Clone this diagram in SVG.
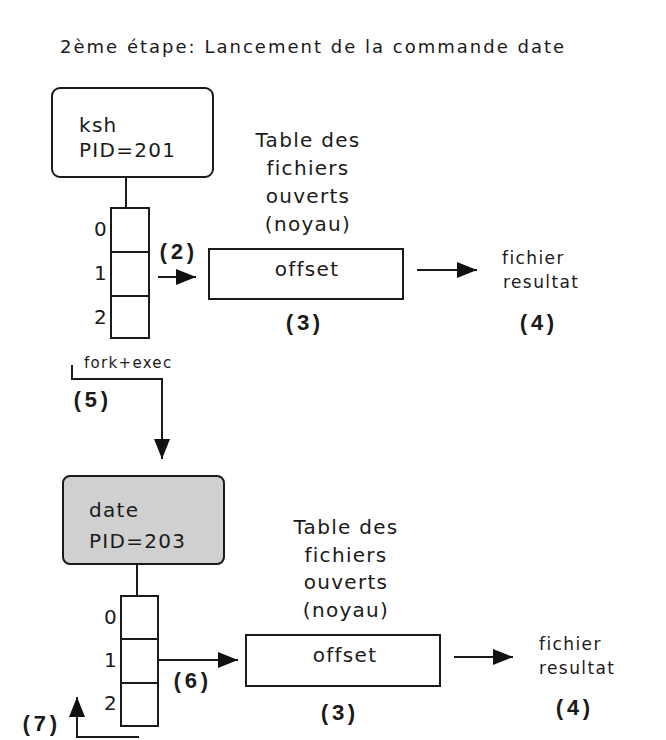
<svg xmlns="http://www.w3.org/2000/svg" width="666" height="740" viewBox="0 0 666 740">
  <style>
    .t { font-family: "DejaVu Sans", Verdana, sans-serif; fill: #1a1a1a; }
    .big { font-size: 20px; letter-spacing: 1.3px; }
    .mid { font-size: 17px; letter-spacing: 1.4px; }
    .sm { font-size: 15px; letter-spacing: 1.3px; }
    .ttl { font-size: 18px; letter-spacing: 0.9px; }
    .num { font-family: "Liberation Mono", "Courier New", monospace; font-weight: bold; font-size: 22px; fill: #1a1a1a; }
    .box { fill: #ffffff; stroke: #1a1a1a; stroke-width: 2; }
    .proc2 { fill: #d0d0d0; stroke: #1a1a1a; stroke-width: 2; }
    .cell { fill: #ffffff; stroke: #1a1a1a; stroke-width: 2; }
    .ln { fill: none; stroke: #1a1a1a; stroke-width: 2; }
  </style>
  <defs>
    <marker id="head" markerUnits="userSpaceOnUse" markerWidth="20" markerHeight="16" refX="20" refY="8" orient="auto">
      <path d="M0,0 L20,8 L0,16 Z" fill="#111"/>
    </marker>
  </defs>

  <rect width="666" height="740" fill="#ffffff"/>

  <text id="title" class="t ttl" x="60" y="53" textLength="505">2ème étape: Lancement de la commande date</text>

  <!-- parent shell -->
  <g id="ksh">
    <rect class="box" x="52" y="88" width="161" height="89" rx="8"/>
    <text class="t big" x="79" y="132">ksh</text>
    <text class="t big" x="79" y="157">PID=201</text>
  </g>

  <g id="fd-ksh">
    <rect class="cell" x="111" y="208" width="38" height="44"/>
    <rect class="cell" x="111" y="252" width="38" height="44"/>
    <rect class="cell" x="111" y="296" width="38" height="42"/>
    <text class="t big" x="94" y="236">0</text>
    <text class="t big" x="94" y="280">1</text>
    <text class="t big" x="94" y="324">2</text>
  </g>

  <g id="table1">
    <text class="t big" text-anchor="middle" x="308" y="147">Table des</text>
    <text class="t big" text-anchor="middle" x="308" y="175">fichiers</text>
    <text class="t big" text-anchor="middle" x="308" y="203">ouverts</text>
    <text class="t big" text-anchor="middle" x="308" y="231">(noyau)</text>
    <rect class="box" x="209" y="249" width="194" height="50"/>
    <text class="t big" text-anchor="middle" x="307" y="276">offset</text>
    <text class="num" text-anchor="middle" x="303" y="330">(3)</text>
  </g>

  <g id="file1">
    <text class="t mid" x="502" y="264">fichier</text>
    <text class="t mid" x="503" y="288">resultat</text>
    <text class="num" text-anchor="middle" x="537" y="330">(4)</text>
  </g>

  <!-- child process after fork+exec -->
  <g id="date">
    <rect class="proc2" x="63" y="476" width="161" height="88" rx="7"/>
    <text class="t big" x="89" y="517">date</text>
    <text class="t big" x="89" y="548">PID=203</text>
  </g>

  <g id="fd-date">
    <rect class="cell" x="121" y="596" width="37" height="43"/>
    <rect class="cell" x="121" y="639" width="37" height="44"/>
    <rect class="cell" x="121" y="683" width="37" height="43"/>
    <text class="t big" x="104" y="624">0</text>
    <text class="t big" x="104" y="667">1</text>
    <text class="t big" x="104" y="710">2</text>
  </g>

  <g id="table2">
    <text class="t big" text-anchor="middle" x="346" y="534">Table des</text>
    <text class="t big" text-anchor="middle" x="346" y="562">fichiers</text>
    <text class="t big" text-anchor="middle" x="346" y="589">ouverts</text>
    <text class="t big" text-anchor="middle" x="346" y="617">(noyau)</text>
    <rect class="box" x="246" y="635" width="194" height="51"/>
    <text class="t big" text-anchor="middle" x="345" y="662">offset</text>
    <text class="num" text-anchor="middle" x="338" y="720">(3)</text>
  </g>

  <g id="file2">
    <text class="t mid" x="539" y="650">fichier</text>
    <text class="t mid" x="539" y="674">resultat</text>
    <text class="num" text-anchor="middle" x="573" y="715">(4)</text>
  </g>

  <g id="connectors">
    <line class="ln" x1="126" y1="177" x2="126" y2="208"/>
    <line class="ln" x1="158" y1="277" x2="196" y2="277" marker-end="url(#head)"/>
    <text class="num" x="157" y="259">(2)</text>
    <line class="ln" x1="417" y1="270" x2="477" y2="270" marker-end="url(#head)"/>

    <polyline class="ln" points="72,365 72,379 162,379 162,459" marker-end="url(#head)"/>
    <text class="t sm" x="84" y="368">fork+exec</text>
    <text class="num" x="71" y="407">(5)</text>

    <line class="ln" x1="137" y1="564" x2="137" y2="596"/>
    <line class="ln" x1="158" y1="660" x2="238" y2="660" marker-end="url(#head)"/>
    <text class="num" x="171" y="688">(6)</text>
    <line class="ln" x1="454" y1="657" x2="513" y2="657" marker-end="url(#head)"/>

    <polyline class="ln" points="139,737 77,737 77,697" marker-end="url(#head)"/>
    <text class="num" x="20" y="731">(7)</text>
  </g>
</svg>
